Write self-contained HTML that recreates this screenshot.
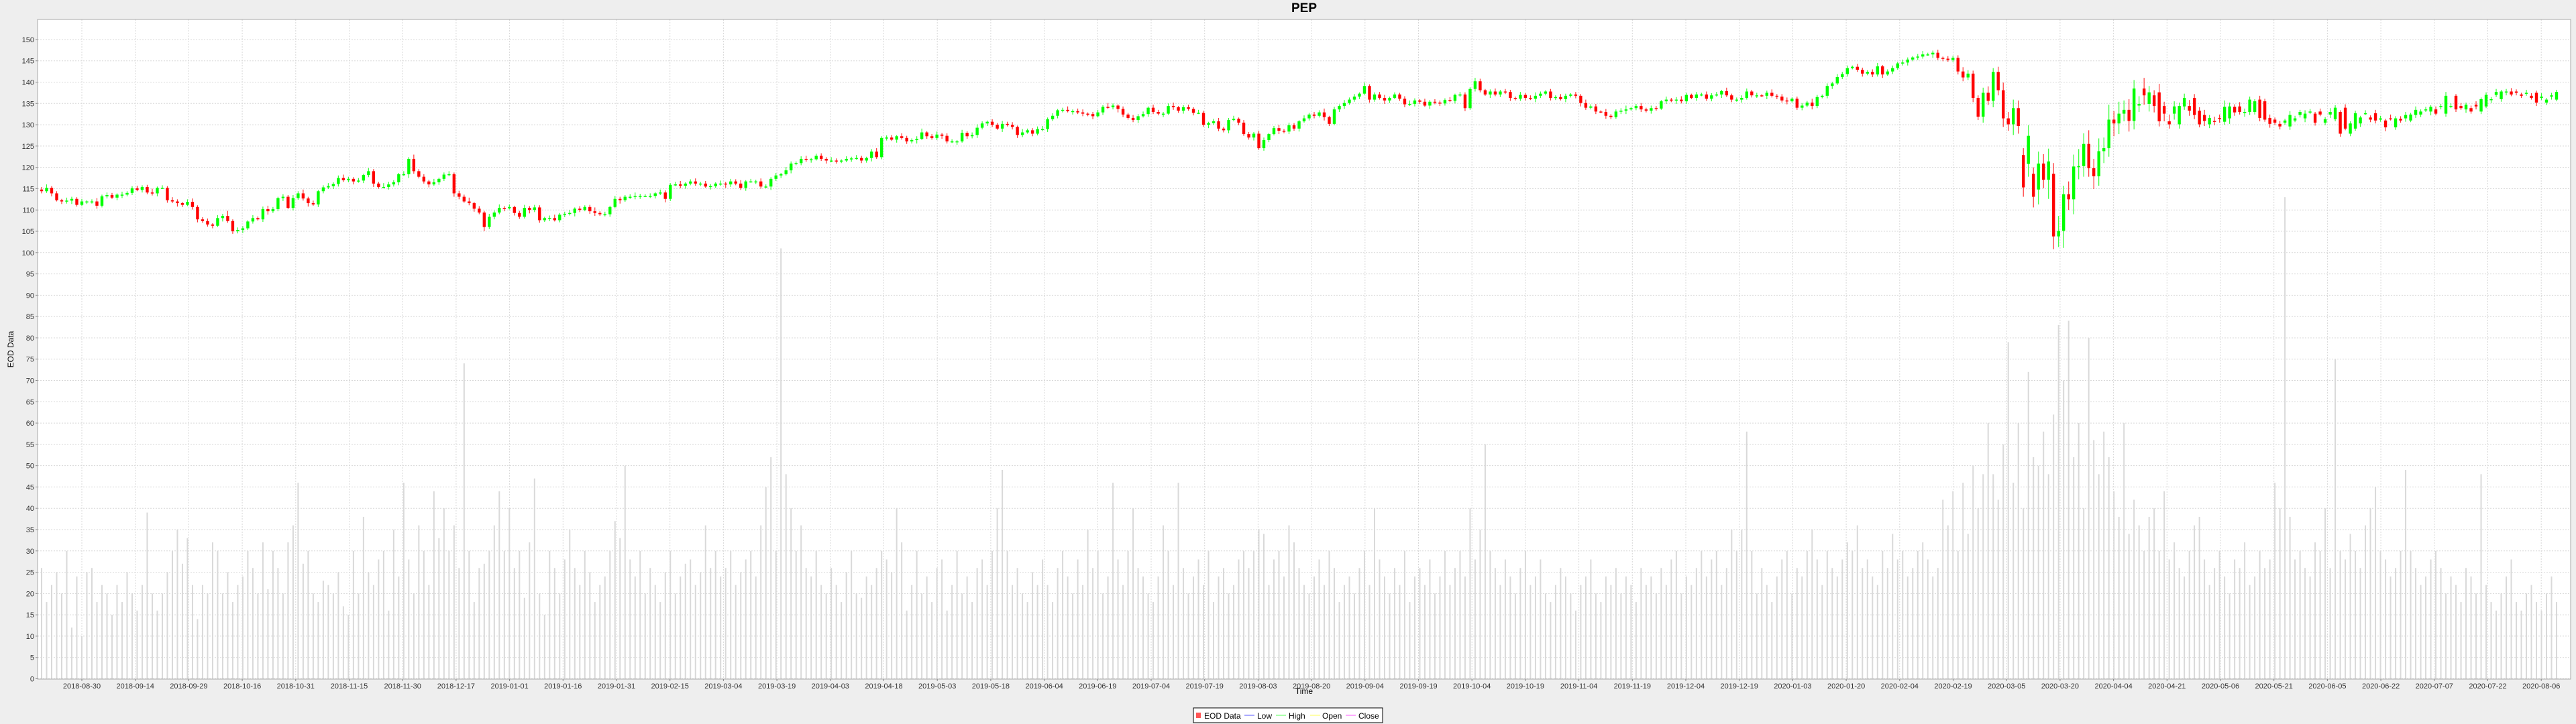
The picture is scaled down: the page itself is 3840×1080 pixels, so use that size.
<!DOCTYPE html>
<html><head><meta charset="utf-8"><title>PEP</title>
<style>
html,body{margin:0;padding:0;background:#eeeeee;}
svg{display:block;font-family:"Liberation Sans",sans-serif;}
</style></head>
<body>
<svg id="chart" width="3840" height="1080" viewBox="0 0 3840 1080" xmlns="http://www.w3.org/2000/svg">
<rect x="0" y="0" width="3840" height="1080" fill="#eeeeee"/>
<text x="1944" y="18" text-anchor="middle" font-size="19" font-weight="bold" fill="#000">PEP</text>
<rect x="56" y="29" width="3776" height="984" fill="#ffffff"/>
<g id="grid"></g>
<g id="vol"></g>
<g id="candles"></g>
<rect x="56" y="29" width="3776" height="984" fill="none" stroke="#aaaaaa" stroke-width="1"/>
<g id="yaxis"></g>
<g id="xaxis"></g>
<text transform="translate(20,521) rotate(-90)" text-anchor="middle" font-size="12" fill="#000">EOD Data</text>
<text x="1944" y="1035" text-anchor="middle" font-size="12" fill="#000">Time</text>
<g>
<rect x="1779" y="1056" width="282" height="22" fill="#fff" stroke="#000" stroke-width="1"/>
<g><rect x="1783" y="1063" width="7" height="8" fill="#ff5555"/><text x="1795" y="1072" font-size="12">EOD Data</text></g>
<g><line x1="1855" y1="1067" x2="1870" y2="1067" stroke="#5555ff"/><text x="1874" y="1072" font-size="12">Low</text></g>
<g><line x1="1902" y1="1067" x2="1917" y2="1067" stroke="#55ff55"/><text x="1921" y="1072" font-size="12">High</text></g>
<g><line x1="1953" y1="1067" x2="1968" y2="1067" stroke="#ffff55"/><text x="1971" y="1072" font-size="12">Open</text></g>
<g><line x1="2006" y1="1067" x2="2021" y2="1067" stroke="#ff55ff"/><text x="2025" y="1072" font-size="12">Close</text></g>
</g>
</svg>
<script>
const closes = [114.4,115.2,113.9,112.3,112,112.2,112.6,111.2,112,112,112,111,113.2,113.5,112.9,113.6,113.6,114,115.1,114.7,115.4,114.1,113.9,115.2,115.2,112.3,112,111.6,111.2,111.9,110.7,107.8,107.4,106.6,106.3,108.1,108.6,107.4,105,105.3,105.7,107.3,108.1,107.8,110.2,109.7,110.2,112.8,113.1,110.5,112.8,113.9,112.7,111.6,111.3,114.4,115.3,115.6,116.1,117.5,117,117.3,116.7,116.9,118.2,119.1,116.2,115.4,115.4,116,116.5,118.4,118.4,122,119.1,117.8,116.7,116,116.5,117.3,118.3,118.4,113.9,113.1,112,111.6,110.3,109.4,106,108.4,109.4,110.5,110.4,110.7,109.3,108.4,110.5,110,110.6,107.6,108.1,108.1,107.6,108.9,109.1,109.3,110.3,110,110.7,109.7,109.3,109,109,110.7,112.6,112.3,113.1,113.1,113.3,113.3,113.3,113.3,113.9,114.1,112.6,
115.9,116,115.7,116.2,116.7,116.2,116.2,115.5,115.6,116.2,116.2,116,116.7,116.2,115.2,116.7,116.7,116.7,115.5,115.5,117.3,118.1,118.4,119.3,120.9,121,122,121.9,121.9,122.7,122,121.6,121.6,121.5,121.6,122,122.1,122.2,121.6,122.2,123.7,122.4,126.9,127,126.5,127.3,126.9,126.1,126.4,126.7,128.2,127.3,126.9,127.7,127.4,126.1,126.1,126.1,128.1,127.3,127.6,129.3,130.3,130.7,130,129.1,130.2,130,129.5,127.6,128.2,128.7,127.9,129,129,131.3,132.1,133.4,133.5,133.2,133.2,132.9,132.6,132.5,132,132.9,134.2,134.1,134.5,133.7,132.4,131.6,131.1,132,132.5,134,133,132.6,132.6,134.4,134.1,133.3,134.1,133.7,132.8,132.8,130,130.4,130.8,129.1,128.7,131.1,131.4,130.5,127.8,127,127.9,124.5,126.4,127.8,129.2,128.6,128.4,129.9,129.1,
130.8,131.5,132.4,132.1,132.9,131.8,130.2,133.6,134.4,135.1,135.9,136.6,137.3,139.1,135.9,137.1,136.3,135.7,136.3,137.1,136.1,134.8,134.9,135.7,135.4,134.5,135.4,135.2,135,135.8,135.6,137,137.1,133.9,138.4,140.2,138.1,137.1,137.8,137.1,137.8,137.7,136.3,136.1,137,136.3,136.1,136.8,137.3,137.8,136.3,136.5,136,136.8,137.1,136.8,135.1,134,134.3,133.1,133,132.1,131.8,133.1,133.3,133.6,133.9,134.4,133.6,133.3,133.9,133.8,135.5,135.9,135.7,135.9,135.5,137,136.3,137.1,137.1,136.1,136.9,137.1,137.9,136.9,135.9,135.9,136.3,137.8,136.9,136.9,136.8,137.5,136.8,136.6,135.7,135.5,136.1,134,134.5,135.2,134.4,136.5,136.8,139.1,139.7,141.2,141.9,143.3,143.6,142.9,142,142.4,141.8,143.7,141.8,142.5,143.3,144.4,144.6,145.3,145.8,
146,146.5,146.5,146.9,145.7,145.5,145.2,145.7,142.5,141.1,142,136.3,131.9,137.5,135.6,142.4,138.1,131.5,130.1,133.9,129.7,115.3,127.4,113.1,120.9,117.1,121.4,103.8,105.1,113.7,112.5,120.2,120.3,125.5,119.8,117.9,123.8,124.5,131.2,130.3,132.6,133.5,130.9,138.5,134.9,136.9,137.6,134.4,130.8,132.6,130.1,134.3,134.4,136.3,133.3,132.3,130.1,130.9,131.6,130.7,131.5,134.2,134.3,132.9,133,133,135.9,135.5,131.6,131.2,130.2,130.5,129.6,131,132.3,131.5,133,132.6,133.1,130.5,132.4,131.3,133,134,127.9,129.1,130.3,132.7,131.7,132.7,131.2,131,131.5,129.4,131.4,131.5,131,132.3,132.4,133.5,133.1,133.6,134.2,132.6,134.4,136.8,134.4,133.6,133.9,134.7,133.1,134.3,136,137,136,137.7,137.8,137.8,137.1,137.5,136.8,137.5,136.3,135.2,136.6,135.9,136.9,137.7];

const opens = [114.8,114.4,115.2,113.9,112.3,112,112.2,112.6,111.2,112,112,112,111,113.2,113.5,112.9,113.6,113.6,114,115.1,114.7,115.4,114.1,113.9,115.2,115.2,112.3,112,111.6,111.2,111.9,110.7,107.8,107.4,106.6,106.3,108.1,108.6,107.4,105,105.3,105.7,107.3,108.1,107.8,110.2,109.7,110.2,112.8,113.1,110.5,112.8,113.9,112.7,111.6,111.3,114.4,115.3,115.6,116.1,117.5,117,117.3,116.7,116.9,118.2,119.1,116.2,115.4,115.4,116,116.5,118.4,118.4,122,119.1,117.8,116.7,116,116.5,117.3,118.3,118.4,113.9,113.1,112,111.6,110.3,109.4,106,108.4,109.4,110.5,110.4,110.7,109.3,108.4,110.5,110,110.6,107.6,108.1,108.1,107.6,108.9,109.1,109.3,110.3,110,110.7,109.7,109.3,109,109,110.7,112.6,112.3,113.1,113.1,113.3,113.3,113.3,113.3,113.9,114.1,
112.6,115.9,116,115.7,116.2,116.7,116.2,116.2,115.5,115.6,116.2,116.2,116,116.7,116.2,115.2,116.7,116.7,116.7,115.5,115.5,117.3,118.1,118.4,119.3,120.9,121,122,121.9,121.9,122.7,122,121.6,121.6,121.5,121.6,122,122.1,122.2,121.6,122.2,123.7,122.4,126.9,127,126.5,127.3,126.9,126.1,126.4,126.7,128.2,127.3,126.9,127.7,127.4,126.1,126.1,126.1,128.1,127.3,127.6,129.3,130.3,130.7,130,129.1,130.2,130,129.5,127.6,128.2,128.7,127.9,129,129,131.3,132.1,133.4,133.5,133.2,133.2,132.9,132.6,132.5,132,132.9,134.2,134.1,134.5,133.7,132.4,131.6,131.1,132,132.5,134,133,132.6,132.6,134.4,134.1,133.3,134.1,133.7,132.8,132.8,130,130.4,130.8,129.1,128.7,131.1,131.4,130.5,127.8,127,127.9,124.5,126.4,127.8,129.2,128.6,128.4,129.9,
129.1,130.8,131.5,132.4,132.1,132.9,131.8,130.2,133.6,134.4,135.1,135.9,136.6,137.3,139.1,135.9,137.1,136.3,135.7,136.3,137.1,136.1,134.8,134.9,135.7,135.4,134.5,135.4,135.2,135,135.8,135.6,137,137.1,133.9,138.4,140.2,138.1,137.1,137.8,137.1,137.8,137.7,136.3,136.1,137,136.3,136.1,136.8,137.3,137.8,136.3,136.5,136,136.8,137.1,136.8,135.1,134,134.3,133.1,133,132.1,131.8,133.1,133.3,133.6,133.9,134.4,133.6,133.3,133.9,133.8,135.5,135.9,135.7,135.9,135.5,137,136.3,137.1,137.1,136.1,136.9,137.1,137.9,136.9,135.9,135.9,136.3,137.8,136.9,136.9,136.8,137.5,136.8,136.6,135.7,135.5,136.1,134,134.5,135.2,134.4,136.5,136.8,139.1,139.7,141.2,141.9,143.3,143.6,142.9,142,142.4,141.8,143.7,141.8,142.5,143.3,144.4,144.6,145.3,
145.8,146,146.5,146.5,146.9,145.7,145.5,145.2,145.7,142.5,141.1,142,136.3,131.9,137.5,135.6,142.4,138.1,131.5,130.1,133.9,122.9,120.8,118.5,114.8,120.9,117.1,118.5,103.8,105.1,113.7,112.5,120.2,120.3,125.5,119.8,117.9,123.8,124.5,131.2,130.3,132.6,133.5,130.9,134.5,138.5,134.9,136.9,137.6,134.4,130.8,132.6,130.1,134.3,134.4,136.3,133.3,132.3,130.1,130.9,131.6,130.7,131.5,134.2,134.3,132.9,133,133,135.9,135.5,131.6,131.2,130.2,130.5,129.6,131,132.3,131.5,133,132.6,133.1,130.5,132.4,131.3,133,134,127.9,129.1,130.3,132.7,131.7,132.7,131.2,131,131.5,129.4,131.4,131.5,131,132.3,132.4,133.5,133.1,133.6,134.2,132.6,134.4,136.8,134.4,133.6,133.9,134.7,133.1,134.3,136,137,136,137.7,137.8,137.8,137.1,137.5,136.8,137.5,136.3,135.2,136.6,135.9,136.9];

const wickUp = [0.6,0.8,0.4,0.5,0.3,0.7,0.5,0.4,0.6,0.3,0.5,0.8,0.4,0.6,0.5,0.3,0.7,0.4,0.5,0.6,
0.4,0.5,0.9,0.3,0.6,0.4,0.7,0.5,0.3,0.6,0.8,0.4,0.5,0.6,0.3,0.7,0.5,1.2,0.4,0.6,
0.5,0.3,0.7,0.4,0.6,0.8,0.5,0.3,0.6,0.4,0.7,0.5,0.9,0.4,0.6,0.3,0.5,0.7,0.4,0.6,
0.8,0.5,0.4,0.6,0.3,0.7,0.5,0.4,0.9,0.6,0.5,0.3,0.7,0.4,1.0,0.5,0.6,0.4,0.8,0.3,
0.5,0.7,0.4,0.6,0.5,0.9,0.3,0.6,0.4,0.7,0.5,0.8,0.4,0.6,0.3,0.5,0.7,0.4,0.6,0.5,
0.3,0.6,0.8,0.4,0.5,0.7,0.3,0.6,0.4,0.5,0.9,0.4,0.6,0.3,0.7,0.5,0.4,0.6,0.8,0.5,
0.4,0.6,0.3,0.7,0.5,0.4,0.6,0.8,0.3,0.5,0.7,0.4,0.6,0.5,0.3,0.7,0.4,0.6,0.5,0.8,
0.3,0.6,0.4,0.7,0.5,0.4,0.6,0.3,0.8,0.5,0.4,0.6,0.7,0.3,0.5,0.6,0.4,0.8,0.5,0.3,
0.6,0.4,0.7,0.5,0.3,0.6,0.8,0.4,0.5,0.6,0.3,0.7,0.5,0.4,0.6,0.9,0.3,0.5,0.7,0.4,
0.6,0.5,0.3,0.7,0.4,0.6,0.8,0.5,0.3,0.6,0.4,0.7,0.5,0.6,0.3,0.8,0.4,0.5,0.6,0.7,
0.4,0.6,0.3,0.5,0.8,0.4,0.6,0.7,0.3,0.5,0.6,0.4,0.9,0.5,0.3,0.6,0.4,0.7,0.5,0.6,
0.3,0.7,0.5,0.4,0.6,0.8,0.3,0.5,0.6,0.4,0.7,0.5,0.3,0.6,0.8,0.4,0.5,0.7,0.3,0.6,
0.5,0.4,0.7,0.6,0.3,0.5,0.8,0.4,0.6,0.5,0.3,0.7,0.4,0.6,0.5,0.9,0.3,0.6,0.4,0.7,
0.5,0.6,0.3,0.8,0.4,0.5,0.6,0.7,0.3,0.5,0.4,0.6,0.8,0.5,0.3,0.7,0.4,0.6,0.5,0.4,
0.7,0.3,0.6,0.5,0.4,0.8,0.6,0.3,0.5,0.7,0.4,0.6,0.5,0.3,0.7,0.4,0.6,0.8,0.5,0.3,
0.6,0.4,0.7,0.5,0.3,0.6,0.4,0.8,0.5,0.6,0.3,0.7,0.4,0.5,0.6,0.9,0.3,0.5,0.7,0.4,
0.6,0.5,0.3,0.7,0.4,0.6,0.8,0.5,0.3,0.6,0.4,0.7,0.5,0.6,0.3,0.8,0.4,0.5,0.6,0.7,
0.4,0.6,0.3,0.5,0.8,0.4,0.6,0.7,0.3,0.5,0.6,0.4,0.9,0.5,0.3,0.6,0.4,0.7,0.5,0.6,
0.3,0.7,0.5,0.4,0.6,0.8,0.3,0.5,0.6,0.4,0.7,0.5,0.3,0.6,0.8,0.4,0.5,0.7,0.3,0.6,
0.5,0.6,1.0,0.8,0.7,0.6,1.2,1.5,0.9,1.2,1.8,1.5,2.0,1.8,1.6,2.5,1.5,2.8,2.2,3.0,
2.5,3.5,2.0,3.0,2.8,4.0,2.5,3.2,2.2,3.0,2.5,3.5,2.0,2.8,2.2,2.5,2.0,1.8,2.5,1.5,
1.2,2.0,1.0,1.6,1.2,0.8,1.0,1.4,0.9,0.8,1.2,0.7,1.0,0.8,1.5,0.9,0.6,1.0,0.8,0.7,
0.5,0.9,0.6,0.8,0.5,0.7,0.4,0.9,0.6,0.5,0.8,0.6,0.4,0.7,0.5,0.9,0.6,0.4,0.8,0.5,
0.6,0.4,0.7,0.5,0.8,0.6,0.4,0.9,0.5,0.6,0.7,0.4,0.8,0.5,0.6,0.4,0.7,0.5,0.9,0.6,
0.4,0.7,0.5,0.6,0.8,0.4,0.6,0.5,0.7,0.4,0.6,0.8,0.5,0.4,0.7,0.6,0.5,0.8,0.4,0.6,
0.5,0.7,0.4,0.6,0.8];

const wickDn = [0.5,0.4,0.7,0.3,0.6,0.5,0.8,0.4,0.3,0.6,0.5,0.7,0.4,0.5,0.3,0.6,0.8,0.4,0.5,0.3,
0.6,0.4,0.5,0.7,0.3,0.6,0.4,0.8,0.5,0.3,0.6,0.7,0.4,0.5,0.6,0.3,0.8,0.4,0.6,0.5,
0.7,0.4,0.5,0.3,0.6,0.8,0.4,0.5,0.7,0.3,0.6,0.4,0.5,0.8,0.3,0.6,0.5,0.4,0.7,0.6,
0.4,0.5,0.7,0.3,0.6,0.5,0.8,0.4,0.3,0.6,0.5,0.7,0.4,0.9,0.6,0.4,0.5,0.7,0.3,0.6,
0.5,0.4,0.8,0.6,0.3,0.5,0.7,0.4,1.0,0.5,0.6,0.4,0.7,0.3,0.6,0.5,0.4,0.8,0.5,0.6,
0.4,0.7,0.3,0.5,0.6,0.4,0.8,0.5,0.3,0.6,0.7,0.4,0.5,0.6,0.3,0.8,0.4,0.5,0.6,0.7,
0.3,0.5,0.6,0.4,0.8,0.5,0.3,0.6,0.7,0.4,0.5,0.6,0.3,0.7,0.4,0.5,0.8,0.6,0.4,0.5,
0.7,0.3,0.6,0.5,0.4,0.8,0.5,0.6,0.3,0.7,0.4,0.5,0.6,0.8,0.3,0.5,0.7,0.4,0.6,0.5,
0.4,0.7,0.3,0.6,0.5,0.8,0.4,0.5,0.6,0.3,0.7,0.4,0.6,0.5,0.8,0.3,0.6,0.4,0.5,0.7,
0.5,0.4,0.8,0.3,0.6,0.5,0.7,0.4,0.6,0.5,0.3,0.8,0.4,0.6,0.7,0.5,0.3,0.6,0.4,0.5,
0.7,0.4,0.6,0.5,0.3,0.8,0.4,0.6,0.5,0.7,0.3,0.6,0.4,0.5,0.8,0.6,0.4,0.5,0.7,0.3,
0.6,0.5,0.4,0.8,0.3,0.6,0.5,0.7,0.4,0.6,0.3,0.5,0.8,0.4,0.6,0.5,0.7,0.3,0.6,0.4,
0.5,0.7,0.4,0.6,0.5,0.3,0.8,0.4,0.6,0.5,0.7,0.3,0.5,0.6,0.4,0.8,0.5,0.3,0.6,0.7,
0.4,0.5,0.6,0.3,0.7,0.5,0.4,0.8,0.6,0.3,0.5,0.7,0.4,0.6,0.5,0.3,0.8,0.4,0.6,0.5,
0.3,0.6,0.5,0.7,0.4,0.6,0.5,0.3,0.8,0.4,0.6,0.5,0.7,0.4,0.5,0.6,0.3,0.8,0.5,0.4,
0.6,0.5,0.3,0.7,0.4,0.6,0.8,0.5,0.4,0.6,0.3,0.7,0.5,0.4,0.6,0.8,0.3,0.5,0.6,0.4,
0.7,0.5,0.3,0.6,0.4,0.8,0.5,0.6,0.3,0.7,0.4,0.5,0.6,0.3,0.8,0.4,0.6,0.5,0.7,0.4,
0.5,0.6,0.3,0.8,0.4,0.6,0.5,0.7,0.3,0.5,0.6,0.4,0.8,0.5,0.3,0.6,0.7,0.4,0.5,0.6,
0.3,0.5,0.7,0.4,0.6,0.5,0.8,0.3,0.6,0.4,0.5,0.7,0.4,0.6,0.5,0.3,0.8,0.5,0.6,0.4,
0.5,0.7,0.9,0.6,1.0,0.8,1.4,1.0,1.5,1.2,2.0,1.5,2.5,1.8,2.2,3.0,2.5,3.5,2.0,4.5,
3.0,2.5,4.0,2.5,3.5,3.0,2.5,2.0,3.0,2.2,2.8,2.0,3.0,2.5,1.8,2.5,2.0,1.5,2.2,1.8,
1.5,1.2,1.8,1.0,1.4,1.0,0.8,1.2,1.0,0.7,1.2,0.9,0.8,1.0,0.7,1.3,0.8,0.6,1.0,0.7,
0.6,0.8,0.5,0.9,0.6,0.7,0.5,0.8,0.4,0.6,0.9,0.5,0.7,0.4,0.6,0.8,0.5,0.7,0.4,0.6,
0.5,0.8,0.4,0.6,0.7,0.5,0.9,0.4,0.6,0.5,0.8,0.4,0.7,0.6,0.5,0.9,0.4,0.6,0.7,0.5,
0.6,0.4,0.8,0.5,0.7,0.6,0.4,0.9,0.5,0.6,0.8,0.4,0.6,0.5,0.7,0.4,0.8,0.5,0.6,0.7,
0.4,0.6,0.5,0.8,0.5];

const volumes = [26,18,22,25,20,30,12,24,10,25,26,18,22,20,15,22,18,25,20,16,
22,39,20,16,20,25,30,35,27,33,22,14,22,20,32,30,20,25,18,22,
24,30,26,20,32,21,30,26,20,32,36,46,27,30,20,18,23,22,20,25,
17,15,30,20,38,25,22,28,30,16,35,24,46,28,20,36,30,22,44,33,
40,30,36,26,74,30,18,26,27,30,36,44,30,40,26,30,19,32,47,20,
15,30,26,20,28,35,26,22,30,25,18,22,24,30,37,33,50,28,24,30,
20,26,22,18,25,30,20,24,27,28,22,25,36,26,30,24,26,30,22,25,
28,30,24,36,45,52,30,101,48,40,30,36,26,24,30,22,20,26,22,18,
25,30,20,19,24,22,26,30,28,25,40,32,16,22,30,20,24,18,26,28,
16,22,30,20,24,18,26,28,22,30,40,49,30,22,26,20,18,25,22,28,
22,18,26,30,24,20,28,22,35,26,30,20,24,46,28,22,30,40,26,24,
20,18,24,36,30,22,46,26,20,24,28,22,30,18,24,26,20,22,28,30,
26,30,35,34,22,28,30,24,36,32,26,22,20,24,28,22,30,26,18,22,
24,20,26,30,22,40,28,24,20,26,22,30,18,24,26,22,28,20,24,30,
22,26,30,24,40,28,35,55,30,26,22,28,24,20,26,30,22,24,28,20,
18,22,26,24,20,16,22,24,28,20,18,24,22,26,20,24,22,18,26,22,
24,20,26,22,28,30,20,24,22,26,30,24,28,30,22,26,35,30,35,58,
30,20,26,22,18,24,28,30,20,26,24,30,35,28,22,30,26,24,28,32,
30,36,26,28,24,22,30,26,34,28,30,24,26,30,32,28,24,26,42,36,
44,30,46,34,50,40,48,60,48,42,55,79,46,60,40,72,52,50,58,48,
62,83,70,84,52,60,40,80,56,48,58,52,44,38,60,34,42,36,30,38,
40,30,44,28,32,26,24,30,36,38,28,22,26,30,24,20,28,26,32,22,
24,30,26,28,46,40,113,38,28,30,26,24,32,30,40,26,75,30,28,34,
30,26,36,40,45,30,28,24,26,30,49,30,26,22,24,28,30,26,20,24,
22,18,26,24,20,48,22,18,16,20,24,28,18,16,20,22,18,16,20,24,
18,16,20,24,18];

const yTicks = [0,5,10,15,20,25,30,35,40,45,50,55,60,65,70,75,80,85,90,95,100,105,110,115,120,125,130,135,140,145,150];
const xTickLabels = ["2018-08-30","2018-09-14","2018-09-29","2018-10-16","2018-10-31","2018-11-15","2018-11-30","2018-12-17","2019-01-01","2019-01-16","2019-01-31","2019-02-15","2019-03-04","2019-03-19","2019-04-03","2019-04-18","2019-05-03","2019-05-18","2019-06-04","2019-06-19","2019-07-04","2019-07-19","2019-08-03","2019-08-20","2019-09-04","2019-09-19","2019-10-04","2019-10-19","2019-11-04","2019-11-19","2019-12-04","2019-12-19","2020-01-03","2020-01-20","2020-02-04","2020-02-19","2020-03-05","2020-03-20","2020-04-04","2020-04-21","2020-05-06","2020-05-21","2020-06-05","2020-06-22","2020-07-07","2020-07-22","2020-08-06"];

const NS = "http://www.w3.org/2000/svg";
const PLOT = {l:56, r:3832, t:29, b:1013};
function yScale(v){ return 1012.5 - v * 6.357; }
const N = closes.length;
function xScale(i){ return 62 + i * (3811 - 62) / (N - 1); }
function xTick(k){ return 122 + k * 79.7; }
function mk(tag, attrs, parent){
  const el = document.createElementNS(NS, tag);
  for (const k in attrs) el.setAttribute(k, attrs[k]);
  parent.appendChild(el);
  return el;
}

const grid = document.getElementById('grid');
const yaxis = document.getElementById('yaxis');
const xaxis = document.getElementById('xaxis');
yTicks.forEach(v => {
  const y = yScale(v);
  const gl = mk('line', {x1:PLOT.l, x2:PLOT.r, y1:y, y2:y, stroke:'#d8d8d8', 'stroke-width':1, 'stroke-dasharray':'2,2'}, grid);
  
  
  const tm = mk('line', {x1:PLOT.l-3, x2:PLOT.l, y1:y, y2:y, stroke:'#888'}, yaxis);
  
  
  const t = mk('text', {x:PLOT.l-5, y:y+4, 'text-anchor':'end', 'font-size':11, fill:'#333'}, yaxis);
  t.textContent = v;
  
  
});
xTickLabels.forEach((lab, k) => {
  const x = xTick(k);
  const gl = mk('line', {x1:x, x2:x, y1:PLOT.t, y2:PLOT.b, stroke:'#d8d8d8', 'stroke-width':1, 'stroke-dasharray':'2,2'}, grid);
  
  
  const tm = mk('line', {x1:x, x2:x, y1:PLOT.b, y2:PLOT.b+3, stroke:'#888'}, xaxis);
  
  
  const t = mk('text', {x:x, y:PLOT.b+14, 'text-anchor':'middle', 'font-size':11, fill:'#333'}, xaxis);
  t.textContent = lab;
  
  
});

const volG = document.getElementById('vol');
volumes.slice(0, N).forEach((v, i) => {
  const x = xScale(i);
  const r = mk('rect', {x:x-1, y:yScale(v), width:2, height:yScale(0)-yScale(v), fill:'#d9d9d9'}, volG);
  
  
});

const cg = document.getElementById('candles');
closes.forEach((c, i) => {
  const o = opens[i] !== undefined ? opens[i] : c;
  const hi = Math.max(o, c) + (wickUp[i] !== undefined ? wickUp[i] : 0.5);
  const lo = Math.min(o, c) - (wickDn[i] !== undefined ? wickDn[i] : 0.5);
  const up = c >= o;
  const col = up ? '#00ff00' : '#ff0000';
  const x = xScale(i);
  const g = mk('g', {}, cg);
  
  
  mk('line', {x1:x, x2:x, y1:yScale(hi), y2:yScale(lo), stroke:col, 'stroke-width':1.2, 'stroke-opacity':0.8}, g);
  const yt = yScale(Math.max(o, c)), yb = yScale(Math.min(o, c));
  mk('rect', {x:x-2.2, y:yt, width:4.4, height:Math.max(1.5, yb-yt), fill:col}, g);
});
</script>
</body></html>
